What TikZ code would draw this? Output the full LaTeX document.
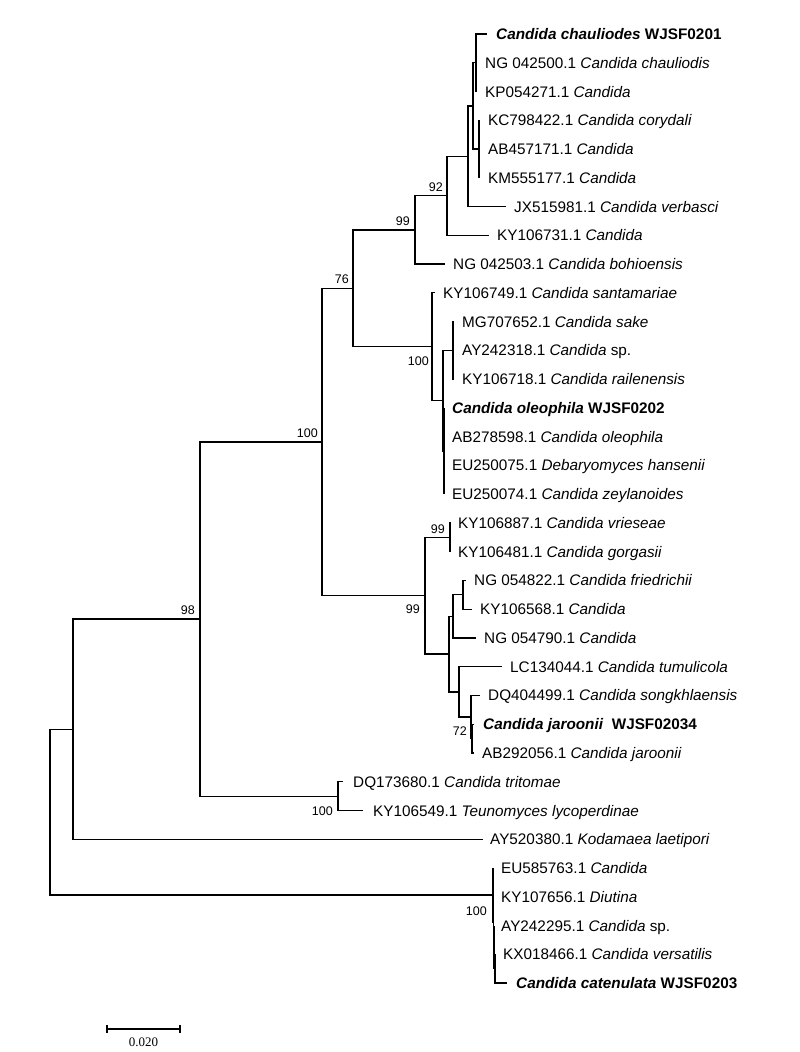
\documentclass[tikz,border=0pt]{standalone}
\usepackage{fontspec}
\setmainfont{Liberation Sans}
\newfontfamily\sbfont{Liberation Serif}
\newcommand\Lf[5]{\coordinate (t#1) at (#2,#4); \node[leaf] (l#1) at (#3,#4) {#5};}
\newcommand\Br[2]{\foreach \c in {#2} {\draw[br] (#1) |- (\c);}}
\begin{document}
\begin{tikzpicture}[x=1pt,y=-1pt,
  br/.style={line width=1.3pt, line join=miter},
  leaf/.style={anchor=base west, inner sep=0pt, yshift=-5.5pt, font=\fontsize{15.3}{18}\selectfont},
  boot/.style={anchor=base east, inner sep=0pt, font=\fontsize{12.5}{14}\selectfont},
  sbar/.style={line width=1.5pt}]
\useasboundingbox (0,0) rectangle (800,1052);
% leaves
\Lf{1}{487}{496}{34.00}{\textbf{\textit{Candida chauliodes} WJSF0201}}
\Lf{2}{477}{485}{62.76}{NG 042500.1 \textit{Candida chauliodis}}
\Lf{3}{477}{485}{91.52}{KP054271.1 \textit{Candida}}
\Lf{4}{480}{488}{120.28}{KC798422.1 \textit{Candida corydali}}
\Lf{5}{480}{488}{149.04}{AB457171.1 \textit{Candida}}
\Lf{6}{480}{488}{177.80}{KM555177.1 \textit{Candida}}
\Lf{7}{506}{514}{206.56}{JX515981.1 \textit{Candida verbasci}}
\Lf{8}{489}{497}{235.32}{KY106731.1 \textit{Candida}}
\Lf{9}{445}{453}{264.08}{NG 042503.1 \textit{Candida bohioensis}}
\Lf{10}{435}{443}{292.84}{KY106749.1 \textit{Candida santamariae}}
\Lf{11}{454}{462}{321.60}{MG707652.1 \textit{Candida sake}}
\Lf{12}{454}{462}{350.36}{AY242318.1 \textit{Candida} sp.}
\Lf{13}{454}{462}{379.12}{KY106718.1 \textit{Candida railenensis}}
\Lf{14}{444}{452}{407.88}{\textbf{\textit{Candida oleophila} WJSF0202}}
\Lf{15}{444}{452}{436.64}{AB278598.1 \textit{Candida oleophila}}
\Lf{16}{444}{452}{465.40}{EU250075.1 \textit{Debaryomyces hansenii}}
\Lf{17}{444}{452}{494.16}{EU250074.1 \textit{Candida zeylanoides}}
\Lf{18}{451}{458}{522.92}{KY106887.1 \textit{Candida vrieseae}}
\Lf{19}{451}{458}{551.68}{KY106481.1 \textit{Candida gorgasii}}
\Lf{20}{466}{474}{580.44}{NG 054822.1 \textit{Candida friedrichii}}
\Lf{21}{472}{480}{609.20}{KY106568.1 \textit{Candida}}
\Lf{22}{476}{484}{637.96}{NG 054790.1 \textit{Candida}}
\Lf{23}{502}{510}{666.72}{LC134044.1 \textit{Candida tumulicola}}
\Lf{24}{480}{488}{695.48}{DQ404499.1 \textit{Candida songkhlaensis}}
\Lf{25}{474}{483}{724.24}{\textbf{\textit{Candida jaroonii}\ \ WJSF02034}}
\Lf{26}{474}{482}{753.00}{AB292056.1 \textit{Candida jaroonii}}
\Lf{27}{343}{353}{781.76}{DQ173680.1 \textit{Candida tritomae}}
\Lf{28}{363}{373}{810.52}{KY106549.1 \textit{Teunomyces lycoperdinae}}
\Lf{29}{483}{490}{839.28}{AY520380.1 \textit{Kodamaea laetipori}}
\Lf{30}{493}{501}{868.04}{EU585763.1 \textit{Candida}}
\Lf{31}{493.5}{501}{896.80}{KY107656.1 \textit{Diutina}}
\Lf{32}{494}{501}{925.56}{AY242295.1 \textit{Candida} sp.}
\Lf{33}{495}{503}{954.32}{KX018466.1 \textit{Candida versatilis}}
\Lf{34}{507}{516}{983.08}{\textbf{\textit{Candida catenulata} WJSF0203}}
% internal nodes
\coordinate (nA) at (476,62.76);
\coordinate (nC) at (479,149.04);
\coordinate (nB) at (473,105.90);
\coordinate (nD) at (468,156.23);
\coordinate (nE) at (447,195.78);
\coordinate (nF) at (415,229.93);
\coordinate (nK) at (453,350.36);
\coordinate (nL) at (444,451.02);
\coordinate (nI) at (443,400.69);
\coordinate (nJ) at (432,346.77);
\coordinate (nG) at (353,288.35);
\coordinate (nN) at (450,537.30);
\coordinate (nS) at (463,594.82);
\coordinate (nQ) at (453,616.39);
\coordinate (nT2) at (472,738.62);
\coordinate (nT) at (471,717.05);
\coordinate (nR) at (459,691.89);
\coordinate (nP) at (449,654.14);
\coordinate (nO) at (425,595.72);
\coordinate (nH) at (322,442.04);
\coordinate (nU) at (338,796.14);
\coordinate (n98) at (200,619.09);
\coordinate (nV) at (73,729.18);
\coordinate (nZ2) at (495,968.70);
\coordinate (nZ) at (494,947.13);
\coordinate (nX) at (493.5,921.97);
\coordinate (nW) at (493,895.00);
\coordinate (root) at (50,812.09);
% branches
\Br{nA}{t1,t2,t3}
\Br{nC}{t4,t5,t6}
\Br{nB}{nA,nC}
\Br{nD}{nB,t7}
\Br{nE}{nD,t8}
\Br{nF}{nE,t9}
\Br{nK}{t11,t12,t13}
\Br{nL}{t14,t15,t16,t17}
\Br{nI}{nK,nL}
\Br{nJ}{t10,nI}
\Br{nG}{nF,nJ}
\Br{nN}{t18,t19}
\Br{nS}{t20,t21}
\Br{nQ}{nS,t22}
\Br{nT2}{t25,t26}
\Br{nT}{t24,nT2}
\Br{nR}{t23,nT}
\Br{nP}{nQ,nR}
\Br{nO}{nN,nP}
\Br{nH}{nG,nO}
\Br{nU}{t27,t28}
\Br{n98}{nH,nU}
\Br{nV}{n98,t29}
\Br{nZ2}{t33,t34}
\Br{nZ}{t32,nZ2}
\Br{nX}{t31,nZ}
\Br{nW}{t30,nX}
\Br{root}{nV,nW}
% bootstrap values
\node[boot] (bE) at (443,191) {92};
\node[boot] (bF) at (410,225) {99};
\node[boot] (bG) at (349,283) {76};
\node[boot] (bH) at (318,437) {100};
\node[boot] (bJ) at (429,365) {100};
\node[boot] (bN) at (445,533) {99};
\node[boot] (bO) at (420,613) {99};
\node[boot] (bT) at (467,735) {72};
\node[boot] (b98) at (195,614) {98};
\node[boot] (bU) at (333,815) {100};
\node[boot] (bW) at (487,915) {100};
% scale bar
\coordinate (sb1) at (107,1029);
\coordinate (sb2) at (180,1029);
\draw[sbar] (sb1) -- (sb2);
\draw[sbar] ([yshift=3.8pt]sb1) -- ([yshift=-3.8pt]sb1);
\draw[sbar] ([yshift=3.8pt]sb2) -- ([yshift=-3.8pt]sb2);
\node[inner sep=0pt, font=\sbfont\fontsize{13}{15}\selectfont] (sbl) at (143.5,1042) {0.020};
\end{tikzpicture}
\end{document}
